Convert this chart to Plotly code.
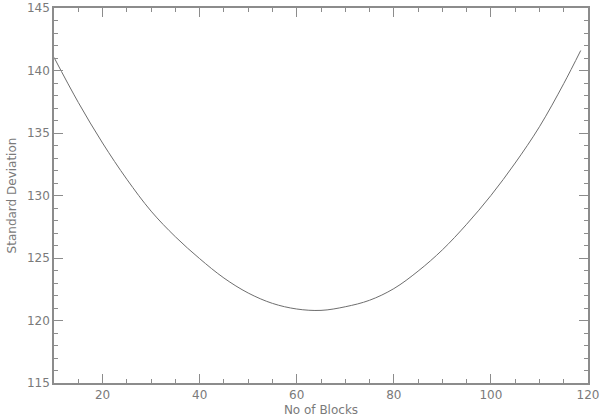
import plotly.graph_objects as go

blocks = [10, 15, 20, 25, 30, 35, 40, 45, 50, 55, 60, 65, 70, 75, 80, 85, 90, 95, 100, 105, 110, 115, 118.5]
std_dev = [141.05, 137.45, 134.2, 131.3, 128.75, 126.7, 124.95, 123.4, 122.2, 121.37, 120.92, 120.81, 121.1,
           121.62, 122.55, 123.95, 125.65, 127.7, 130.0, 132.6, 135.5, 138.95, 141.6]

x_ticks = [20, 40, 60, 80, 100, 120]
y_ticks = [115, 120, 125, 130, 135, 140, 145]

axis_col = "#8c8c8c"
txt_col = "#7a7a7a"

fig = go.Figure()
fig.add_trace(go.Scatter(x=blocks, y=std_dev, mode="lines",
                         line=dict(color="#6e6e6e", width=1, shape="spline"),
                         showlegend=False))

common = dict(showgrid=False, zeroline=False, showline=True, linecolor=axis_col, linewidth=1.5,
              mirror="allticks", ticks="inside", tickcolor=axis_col, tickwidth=1, ticklen=9,
              automargin=False,
              tickfont=dict(family="DejaVu Sans", size=12, color=txt_col))

fig.update_xaxes(range=[10, 120], tickvals=x_ticks,
                 minor=dict(dtick=5, ticks="inside", ticklen=4, tickcolor=axis_col, showgrid=False),
                 title=dict(text="No of Blocks", font=dict(family="DejaVu Sans", size=12, color=txt_col), standoff=4),
                 **common)
fig.update_yaxes(range=[115, 145], tickvals=y_ticks,
                 minor=dict(dtick=1, ticks="inside", ticklen=4, tickcolor=axis_col, showgrid=False),
                 title=dict(text="Standard Deviation", font=dict(family="DejaVu Sans", size=12, color=txt_col), standoff=8),
                 **common)

fig.update_layout(width=600, height=420, plot_bgcolor="white", paper_bgcolor="white",
                  margin=dict(l=54, r=12, t=8, b=37))

fig.write_html("out.html", config={"displayModeBar": False},
               post_script="document.body.style.margin='0';")
